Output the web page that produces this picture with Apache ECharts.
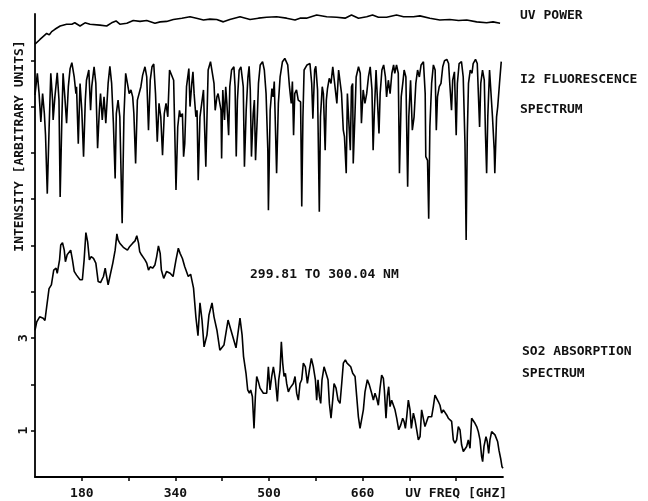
<!DOCTYPE html>
<html><head><meta charset="utf-8">
<script src="https://cdn.jsdelivr.net/npm/echarts@6/dist/echarts.min.js"></script>
<style>html,body{margin:0;padding:0;background:#fff}#c{width:648px;height:501px}</style>
</head><body><div id="c"></div>
<script>
// UV FREQ [GHZ] vs intensity (arbitrary units)
const uvPowerPoints = [[100,9.35],[108.5,9.45],[120,9.58],[124.5,9.55],[128.5,9.62],[134,9.67],[143,9.74],[154,9.78],[163,9.78],[168,9.81],[177,9.74],[185.5,9.81],[194,9.78],[211,9.76],[222.5,9.74],[231,9.81],[238.5,9.85],[245,9.78],[257,9.80],[268,9.86],[279.5,9.84],[291,9.86],[305,9.80],[314,9.83],[325,9.84],[336.5,9.88],[351,9.91],[365,9.94],[376,9.91],[388,9.87],[399,9.89],[410.6,9.88],[422,9.83],[433,9.88],[450.5,9.94],[467.6,9.88],[482,9.91],[496,9.93],[513,9.94],[530,9.91],[544.5,9.87],[553,9.91],[564,9.91],[581.5,9.98],[598.6,9.94],[615.7,9.93],[630,9.91],[641,9.98],[653,9.91],[667,9.94],[677,9.98],[687,9.93],[701,9.93],[718,9.98],[730,9.94],[747,9.94],[758,9.96],[775,9.91],[792,9.87],[809,9.88],[824,9.86],[838,9.87],[855,9.83],[872,9.81],[883,9.83],[895,9.80]];

const i2FluorescencePoints = [[100,8.25],[104,8.72],[107,8.28],[110,7.67],[113,8.28],[116,7.85],[118,7.38],[121,6.12],[124,7.49],[127,8.72],[130,8.14],[131,7.71],[134,8.21],[138,8.73],[141,8.14],[143,6.05],[146,7.78],[148,8.72],[151,8.21],[154,7.64],[157,8.43],[160,8.82],[163,8.95],[167,8.64],[170,8.28],[171,8.43],[174,7.20],[177,8.50],[180,7.92],[183,6.92],[186,8.14],[188,8.57],[192,8.79],[195,7.92],[197,8.43],[201,8.86],[204,8.50],[207,7.10],[210,7.92],[212,8.28],[215,7.71],[218,8.21],[221,7.64],[225,8.50],[228,8.87],[231,8.50],[234,7.64],[237,6.45],[239,7.85],[242,8.14],[245,7.78],[249,5.48],[252,7.78],[255,8.72],[258,8.50],[261,8.28],[264,8.36],[267,8.21],[269,7.85],[272,6.77],[275,8.14],[278,8.14],[281,8.43],[284,8.68],[288,8.86],[291,8.64],[294,7.49],[297,8.57],[300,8.86],[303,8.92],[306,8.28],[309,7.24],[312,8.07],[315,7.78],[318,6.95],[321,7.85],[324,8.07],[327,7.78],[330,8.79],[333,8.79],[337,8.57],[339,7.42],[341,6.20],[344,7.56],[347,7.92],[349,7.78],[352,7.85],[354,6.92],[356,7.20],[359,8.43],[363,8.82],
[365,8.00],[368,8.50],[370,8.75],[372,8.28],[375,7.78],[377,7.92],[379,6.41],[382,7.78],[385,8.07],[388,8.36],[389,7.92],[392,6.70],[394,7.78],[396,8.79],[400,8.97],[403,8.93],[406,8.50],[408,7.92],[411,8.21],[413,8.28],[416,8.32],[418,7.92],[419,6.88],[421,8.36],[424,7.71],[426,8.43],[428,8.07],[431,7.38],[433,8.43],[436,8.79],[440,8.86],[442,8.43],[444,6.92],[446,8.14],[449,8.79],[452,8.86],[456,8.43],[458,6.70],[461,7.92],[464,8.64],[466,8.87],[468,8.36],[470,6.92],[473,7.85],[475,8.14],[477,6.84],[480,7.78],[482,8.50],[485,8.90],[489,8.97],[492,8.79],[495,8.28],[498,7.06],[499,5.76],[502,7.92],[505,8.39],[507,8.21],[509,8.54],[513,6.56],[516,8.07],[519,8.64],[523,8.97],[527,9.04],[532,8.90],[535,8.43],[538,8.07],[540,8.54],[542,7.38],[544,8.28],[547,8.36],[550,8.14],[554,8.10],[556,5.84],[558,7.78],[560,8.79],[565,8.90],[570,8.93],[573,8.50],[575,7.74],[578,8.79],[580,8.87],[583,8.36],[586,5.73],[588,7.78],[591,8.43],[593,8.28],[596,7.06],[598,8.14],[600,8.39],[603,8.61],[606,8.50],[609,8.86],[612,8.90],[616,8.07],[619,8.79],[621,8.82],
[624,8.28],[627,7.49],[629,7.35],[632,6.56],[634,8.28],[636,7.78],[639,7.06],[641,8.43],[643,8.50],[644,6.77],[647,7.85],[649,8.64],[653,8.86],[656,8.72],[658,7.64],[661,8.36],[664,8.07],[667,8.28],[670,8.64],[673,8.86],[676,8.36],[678,7.06],[680,7.85],[683,8.79],[685,8.82],[688,7.42],[690,8.28],[693,8.79],[696,8.90],[699,8.64],[701,8.21],[704,8.57],[707,8.28],[710,8.72],[713,8.90],[715,8.72],[718,8.90],[721,8.72],[723,6.56],[726,8.21],[729,8.54],[731,8.79],[734,8.64],[737,6.27],[739,7.78],[742,8.57],[745,7.49],[748,7.78],[751,8.50],[754,8.79],[757,8.64],[760,8.90],[764,8.97],[767,8.28],[768,6.92],[771,6.84],[773,5.58],[775,7.56],[778,8.50],[781,8.90],[784,8.79],[786,7.49],[788,8.21],[791,8.43],[794,8.50],[797,8.86],[800,8.99],[804,9.02],[807,8.93],[809,8.50],[812,7.92],[814,8.57],[817,8.75],[820,7.38],[822,8.50],[825,8.93],[829,8.97],[832,8.64],[835,7.20],[837,5.12],[839,7.42],[841,8.50],[844,8.79],[847,8.72],[849,8.93],[853,9.02],[856,8.93],[860,7.56],[862,8.50],[865,8.79],[868,8.57],[870,7.42],[872,6.56],[874,7.78],[877,8.79],[880,8.75],[882,7.78],[885,7.06],[886,6.56],[889,7.78],[891,8.00],[894,8.50],[897,8.97]];

const so2AbsorptionPoints = [[100,3.17],[103,3.35],[108,3.46],[114,3.43],[117,3.38],[120,3.68],[124,4.07],[128,4.15],[132,4.47],[136,4.51],[138,4.40],[142,4.69],[144,5.01],[147,5.06],[150,4.90],[152,4.65],[155,4.80],[158,4.83],[161,4.90],[164,4.69],[167,4.44],[171,4.36],[177,4.26],[181,4.26],[184,4.69],[187,5.28],[190,5.08],[193,4.69],[196,4.76],[200,4.72],[204,4.62],[208,4.22],[212,4.20],[217,4.33],[220,4.51],[222,4.36],[225,4.15],[228,4.33],[233,4.62],[237,4.90],[240,5.25],[242,5.12],[245,5.05],[248,5.08],[251,4.96],[254,4.94],[258,4.90],[262,4.98],[267,5.05],[271,5.10],[274,5.21],[277,5.05],[279,4.87],[282,4.80],[285,4.83],[288,4.69],[291,4.62],[294,4.47],[297,4.54],[301,4.51],[305,4.58],[308,4.76],[311,4.99],[314,4.83],[316,4.47],[320,4.29],[325,4.44],[331,4.40],[336,4.33],[341,4.69],[345,4.94],[348,4.83],[352,4.72],[356,4.54],[362,4.33],[366,4.38],[371,4.08],
[375,3.46],[378.6,3.05],[382,3.76],[385.5,3.39],[389,2.81],[394,3.07],[397.4,3.50],[402.6,3.76],[406,3.46],[411,3.17],[416,2.74],[423,2.85],[430,3.39],[435,3.17],[443.6,2.79],[450.4,3.43],[454,3.07],[456.5,2.60],[460.7,2.24],[463.6,1.88],[466.4,1.81],[468.7,1.88],[471.6,1.74],[474.4,1.05],[476.7,1.74],[479,2.17],[481.8,2.06],[484.7,1.92],[488.1,1.88],[490.4,1.81],[493.2,1.84],[496.1,1.81],[498.9,2.38],[501.8,1.88],[504.6,2.17],[507.5,2.38],[510.9,2.10],[514.3,1.63],[516.6,2.10],[518.9,2.31],[521.1,2.92],[523.4,2.46],[525.7,2.17],[528,2.24],[530.2,2.02],[533.1,1.84],[535.9,1.92],[538.8,1.88],[541.6,2.02],[544.5,2.17],[547.3,1.81],[550.2,1.66],[553,2.02],[555.9,2.10],[558.7,2.46],[562.2,2.38],[565.6,2.02],[569,2.31],[572.4,2.56],[575.8,2.38],[579.3,2.10],[581.5,1.66],[583.8,2.10],[586.1,1.74],[588.4,1.59],[590.6,2.10],[594.1,2.38],[597.5,2.38],[600.9,2.10],[603.2,1.59],[606,1.27],[608.9,1.66],[611.2,2.02],[614.6,1.92],[618,1.66],[621.4,1.59],[624.3,2.02],[627.1,2.46],[630.5,2.53],[633.4,2.46],[636.2,2.49],[639.7,2.38],[643.1,2.24],[647.1,2.17],[649.9,1.74],[652.8,1.30],[655.6,1.05],[658.5,1.09],[661.3,1.45],[664.1,1.84],[668.1,2.10],[671.5,1.99],[675.5,1.81],[678.4,1.66],[681.2,1.81],[684.1,1.70],[686.9,1.55],[689.8,1.92],[692.6,2.20],[695.5,2.13],[697.2,1.88],[700,1.27],[702.3,1.74],[704.6,1.95],[706.9,1.52],[709.7,1.66],[712.6,1.63],[715.4,1.45],[718.3,1.27],[721.7,1.02],[725.1,1.12],[728.5,1.27],[730.8,1.20],[733.1,1.05],[735.4,1.30],[738.2,1.66],[741.1,1.45],[743.3,1.05],[746.8,1.38],[749.6,1.23],[752.5,1.02],[755.3,0.80],[758.2,0.87],[760.9,1.45],[763.8,1.45],[766.6,1.09],[769.5,1.05],[772.3,1.30],[775.2,1.34],[778,1.30],[780.9,1.52],[783.7,1.77],[786.6,1.77],[789.4,1.63],[792.3,1.55],[795.1,1.38],[798,1.45],[800.8,1.48],[803.7,1.34],[806.5,1.27],[809.4,1.23],[812.2,1.20],[815.1,0.80],[817.9,0.73],[820.8,0.80],[823.6,1.09],[826.5,1.02],[829.3,0.69],[832.2,0.55],[835,0.58],[837.9,0.66],[840.7,0.80],[843.6,0.62],[846.4,1.27],[849.3,1.23],[852.1,1.16],[855,1.09],[857.8,0.98],[860.7,0.80],[863.5,0.44],[865.2,0.33],[867.5,0.66],[870.9,0.87],[873.2,0.76],[875.5,0.51],[877.7,0.80],[880.6,0.98],[883.4,1.02],[886.3,0.91],[889.1,0.87],[890.9,0.76],[893.1,0.58],[896,0.40],[898.3,0.22],[900,0.19]];

const xTickValues = [180, 260, 340, 420, 500, 580, 660, 740, 820];
const xLabelValues = [180, 340, 500, 660, 820];
const xLabelTexts = ['180', '340', '500', '660', 'UV FREQ [GHZ]'];
const yTickValues = [1, 2, 3, 4, 5, 6, 7, 8, 9];
const yLabelValues = [1, 3];
const yLabelTexts = ['1', '3'];

const FONT = '"DejaVu Sans Mono", monospace';
const chart = echarts.init(document.getElementById('c'), null, {renderer: 'canvas'});
const lineSeries = (name, data) => ({
  name, type: 'line', data, showSymbol: false, symbol: 'none', smooth: false,
  lineStyle: {color: '#000', width: 1.6}, animation: false, z: 3
});
const txt = (text, x, y, extra) => Object.assign({
  type: 'text', x, y,
  style: {text, fill: '#111', font: 'bold 13px ' + FONT, align: 'left', verticalAlign: 'middle'}
}, extra || {});

chart.setOption({
  backgroundColor: '#fff',
  animation: false,
  grid: {left: 35, right: 145, top: 14, bottom: 24},
  xAxis: {
    type: 'value', min: 100, max: 900, interval: 80,
    axisLine: {show: true, onZero: false, lineStyle: {color: '#000', width: 1.8}},
    axisTick: {show: true, length: 4, customValues: xTickValues, lineStyle: {color: '#000', width: 1.5}},
    splitLine: {show: false},
    axisLabel: {
      margin: 10, color: '#111', fontFamily: FONT, fontSize: 13, fontWeight: 'bold',
      customValues: xLabelValues,
      formatter: v => { const i = xLabelValues.indexOf(v); return i >= 0 ? xLabelTexts[i] : ''; }
    }
  },
  yAxis: {
    type: 'value', min: 0, max: 10, interval: 1,
    axisLine: {show: true, onZero: false, lineStyle: {color: '#000', width: 1.8}},
    axisTick: {show: true, length: 4, customValues: yTickValues, lineStyle: {color: '#000', width: 1.5}},
    splitLine: {show: false},
    axisLabel: {
      margin: 5, rotate: 90, color: '#111', fontFamily: FONT, fontSize: 13, fontWeight: 'bold',
      customValues: yLabelValues,
      formatter: v => { const i = yLabelValues.indexOf(v); return i >= 0 ? yLabelTexts[i] : ''; }
    }
  },
  series: [
    lineSeries('UV POWER', uvPowerPoints),
    lineSeries('I2 FLUORESCENCE SPECTRUM', i2FluorescencePoints),
    lineSeries('SO2 ABSORPTION SPECTRUM', so2AbsorptionPoints)
  ],
  graphic: [
    txt('UV POWER', 520, 16),
    txt('I2 FLUORESCENCE', 520, 80),
    txt('SPECTRUM', 520, 110),
    txt('299.81 TO 300.04 NM', 250, 275),
    txt('SO2 ABSORPTION', 522, 352),
    txt('SPECTRUM', 522, 374),
    {type: 'text', x: 20, y: 146, rotation: Math.PI / 2,
     style: {text: 'INTENSITY [ARBITRARY UNITS]', fill: '#111', font: 'bold 13px ' + FONT, align: 'center', verticalAlign: 'middle'}}
  ]
});
</script></body></html>
